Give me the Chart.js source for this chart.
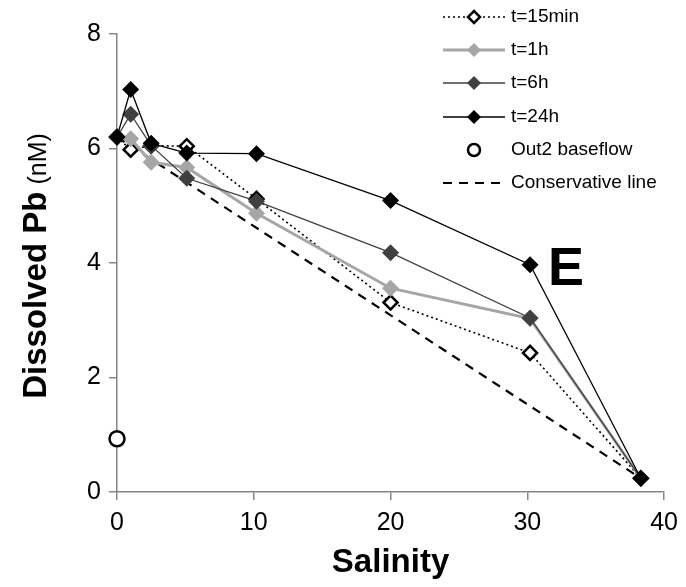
<!DOCTYPE html>
<html>
<head>
<meta charset="utf-8">
<script src="https://cdn.jsdelivr.net/npm/chart.js@4"></script>
<style>
  html, body { margin: 0; padding: 0; background: #fff; }
  #wrap { width: 686px; height: 587px; position: relative; }
</style>
</head>
<body>
<div id="wrap"><canvas id="graf" width="686" height="587"></canvas></div>
<script>
// salinity of each sample and dissolved Pb (nM) at each incubation time
const salinidad = [0, 1, 2.5, 5.1, 10.2, 20, 30.2, 38.3];
const pb15min = [6.2, 5.98, 6.05, 6.04, 5.12, 3.31, 2.43, 0.24];
const pb1h    = [6.2, 6.17, 5.76, 5.67, 4.87, 3.56, 3.03, 0.24];
const pb6h    = [6.2, 6.6, 6.05, 5.48, 5.08, 4.18, 3.04, 0.24];
const pb24h   = [6.2, 7.03, 6.09, 5.92, 5.91, 5.09, 3.97, 0.24];
// baseflow sample and the mixing line between the end members
const baseflowX = [0];
const baseflowY = [0.93];
const conservX = [0, 38.3];
const conservY = [6.2, 0.24];
const xTicks = [0, 10, 20, 30, 40];
const yTicks = [0, 2, 4, 6, 8];

const FUENTE = "'Liberation Sans', Arial, sans-serif";
const GRIS_EJE = "#868686";

function puntos(xs, ys) {
    return xs.map((x, i) => ({ x: x, y: ys[i] }));
}

// leyenda dibujada a mano: linea + marcador como en la serie
const leyenda = {
    id: "leyenda",
    afterDraw(chart) {
        const ctx = chart.ctx;
        const filas = [17, 50, 83, 117, 150, 183];
        const x1 = 443, x2 = 505, xm = 474, xt = 511;
        ctx.save();
        ctx.font = "19px " + FUENTE;
        ctx.textBaseline = "middle";
        chart.data.datasets.forEach((ds, i) => {
            const y = filas[i];
            if (ds.showLine !== false) {
                ctx.save();
                ctx.strokeStyle = ds.borderColor;
                ctx.lineWidth = ds.borderWidth;
                ctx.setLineDash(ds.borderDash || []);
                ctx.beginPath();
                ctx.moveTo(x1, y);
                ctx.lineTo(x2, y);
                ctx.stroke();
                ctx.restore();
            }
            if (ds.pointRadius > 0) {
                const r = ds.legendRadius || ds.pointRadius;
                ctx.fillStyle = ds.pointBackgroundColor;
                ctx.strokeStyle = ds.pointBorderColor;
                ctx.lineWidth = ds.pointBorderWidth;
                ctx.beginPath();
                if (ds.pointStyle === "circle") {
                    ctx.arc(xm, y, r, 0, Math.PI * 2);
                } else {
                    ctx.moveTo(xm, y - r); ctx.lineTo(xm + r, y);
                    ctx.lineTo(xm, y + r); ctx.lineTo(xm - r, y);
                    ctx.closePath();
                }
                ctx.fill();
                if (ds.pointBorderWidth > 0) ctx.stroke();
            }
            ctx.fillStyle = "#000";
            ctx.fillText(ds.label, xt, y);
        });
        ctx.restore();
    }
};

// titulo del eje Y con dos tipos de letra, y la letra del panel
const textos = {
    id: "textos",
    afterDraw(chart) {
        const ctx = chart.ctx;
        const area = chart.chartArea;
        ctx.save();
        const parte1 = "Dissolved Pb";
        const parte2 = " (nM)";
        const f1 = "bold 33px " + FUENTE;
        const f2 = "25px " + FUENTE;
        ctx.font = f1;
        const w1 = ctx.measureText(parte1).width;
        ctx.font = f2;
        const w2 = ctx.measureText(parte2).width;
        const yc = (area.top + area.bottom) / 2 + 3;
        ctx.translate(46, yc);
        ctx.rotate(-Math.PI / 2);
        ctx.fillStyle = "#000";
        ctx.textBaseline = "alphabetic";
        ctx.font = f1;
        ctx.fillText(parte1, -(w1 + w2) / 2, 0);
        ctx.font = f2;
        ctx.fillText(parte2, -(w1 + w2) / 2 + w1, 0);
        ctx.restore();

        ctx.save();
        ctx.font = "bold 54px " + FUENTE;
        ctx.fillStyle = "#000";
        ctx.textAlign = "center";
        ctx.textBaseline = "middle";
        ctx.fillText("E", 566, 270);
        ctx.restore();
    }
};

const ejeComun = {
    grid: {
        display: true,
        drawOnChartArea: false,
        drawTicks: true,
        tickLength: 8,
        color: GRIS_EJE,
        lineWidth: 1.5
    },
    border: { display: true, color: GRIS_EJE, width: 1.5 }
};

new Chart(document.getElementById("graf"), {
    type: "line",
    data: {
        datasets: [
            {
                label: "t=15min",
                data: puntos(salinidad, pb15min),
                borderColor: "#000",
                borderWidth: 1.6,
                borderDash: [2, 3],
                pointStyle: "rectRot",
                pointRadius: 7,
                legendRadius: 6,
                pointBackgroundColor: "#fff",
                pointBorderColor: "#000",
                pointBorderWidth: 2.5,
                order: 3
            },
            {
                label: "t=1h",
                data: puntos(salinidad, pb1h),
                borderColor: "#a6a6a6",
                borderWidth: 3,
                pointStyle: "rectRot",
                pointRadius: 8.5,
                legendRadius: 7,
                pointBackgroundColor: "#a6a6a6",
                pointBorderColor: "#a6a6a6",
                pointBorderWidth: 0,
                order: 2
            },
            {
                label: "t=6h",
                data: puntos(salinidad, pb6h),
                borderColor: "#404040",
                borderWidth: 1.3,
                pointStyle: "rectRot",
                pointRadius: 8.5,
                legendRadius: 7,
                pointBackgroundColor: "#404040",
                pointBorderColor: "#404040",
                pointBorderWidth: 0,
                order: 1
            },
            {
                label: "t=24h",
                data: puntos(salinidad, pb24h),
                borderColor: "#000",
                borderWidth: 1.3,
                pointStyle: "rectRot",
                pointRadius: 8.5,
                legendRadius: 7,
                pointBackgroundColor: "#000",
                pointBorderColor: "#000",
                pointBorderWidth: 0,
                order: 0
            },
            {
                label: "Out2 baseflow",
                data: puntos(baseflowX, baseflowY),
                showLine: false,
                borderColor: "#000",
                borderWidth: 0,
                pointStyle: "circle",
                pointRadius: 7.5,
                legendRadius: 6,
                pointBackgroundColor: "#fff",
                pointBorderColor: "#000",
                pointBorderWidth: 2.5,
                order: 4
            },
            {
                label: "Conservative line",
                data: puntos(conservX, conservY),
                borderColor: "#000",
                borderWidth: 2.2,
                borderDash: [9, 7],
                pointRadius: 0,
                order: 5
            }
        ]
    },
    options: {
        responsive: false,
        animation: false,
        clip: false,
        devicePixelRatio: 1,
        layout: { padding: { top: 34, right: 21, left: 0, bottom: 0 } },
        plugins: {
            legend: { display: false },
            tooltip: { enabled: false }
        },
        scales: {
            x: {
                ...ejeComun,
                type: "linear",
                min: 0,
                max: 40,
                afterBuildTicks: s => { s.ticks = xTicks.map(v => ({ value: v })); },
                ticks: { font: { size: 25, family: FUENTE }, color: "#000", padding: 8 },
                title: {
                    display: true,
                    text: "Salinity",
                    font: { size: 33, weight: "bold", family: FUENTE },
                    color: "#000",
                    padding: { top: 0, bottom: 4 }
                },
                afterFit: s => { s.height = 95; }
            },
            y: {
                ...ejeComun,
                type: "linear",
                min: 0,
                max: 8,
                afterBuildTicks: s => { s.ticks = yTicks.map(v => ({ value: v })); },
                ticks: { font: { size: 25, family: FUENTE }, color: "#000", padding: 8 },
                afterFit: s => { s.width = 117; }
            }
        }
    },
    plugins: [leyenda, textos]
});
</script>
</body>
</html>
